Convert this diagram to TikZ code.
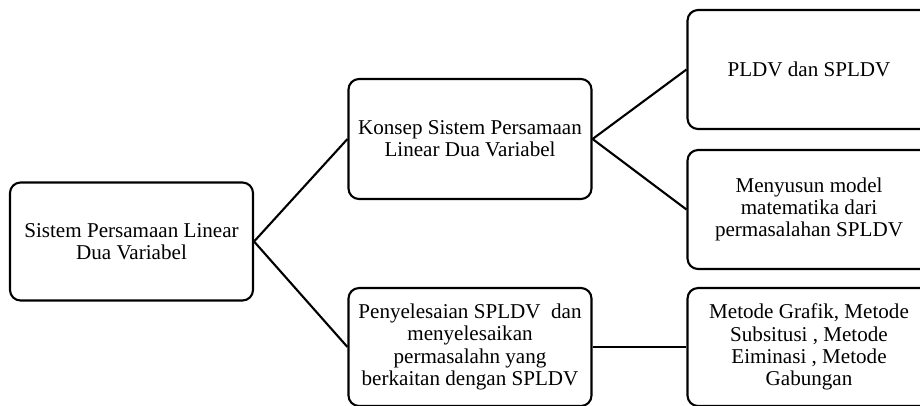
\documentclass[tikz,border=0pt]{standalone}
\usepackage{fontspec}
\setmainfont{Liberation Serif}
\usetikzlibrary{positioning}

\begin{document}
\begin{tikzpicture}[
  box/.style={rectangle, draw=black, line width=1.2pt, rounded corners=6pt, minimum width=4.86cm, minimum height=2.36cm, align=center, font=\fontsize{12}{12.6}\selectfont, inner sep=1pt},
  link/.style={-, line width=1.2pt}
]
\useasboundingbox (0,0) rectangle (18.4,-8.1);
\clip (0,0) rectangle (18.4,-8.1);

\node[box] (root) at (2.63,-4.83) {Sistem Persamaan Linear\\Dua Variabel};
\node[box, minimum height=2.4cm] (konsep) at (9.4,-2.78) {Konsep Sistem Persamaan\\Linear Dua Variabel};
\node[box] (selesai) at (9.4,-6.94) {Penyelesaian SPLDV~ dan\\menyelesaikan\\permasalahn yang\\berkaitan dengan SPLDV};
\node[box, minimum height=2.38cm] (pldv) at (16.18,-1.39) {PLDV dan SPLDV};
\node[box, minimum height=2.38cm] (model) at (16.18,-4.19) {Menyusun model\\matematika dari\\permasalahan SPLDV};
\node[box] (metode) at (16.18,-6.94) {Metode Grafik, Metode\\Subsitusi , Metode\\Eiminasi , Metode\\Gabungan};

\draw[link] (root.east) -- (konsep.west);
\draw[link] (root.east) -- (selesai.west);
\draw[link] (konsep.east) -- (pldv.west);
\draw[link] (konsep.east) -- (model.west);
\draw[link] (selesai.east) -- (metode.west);

\end{tikzpicture}
\end{document}
